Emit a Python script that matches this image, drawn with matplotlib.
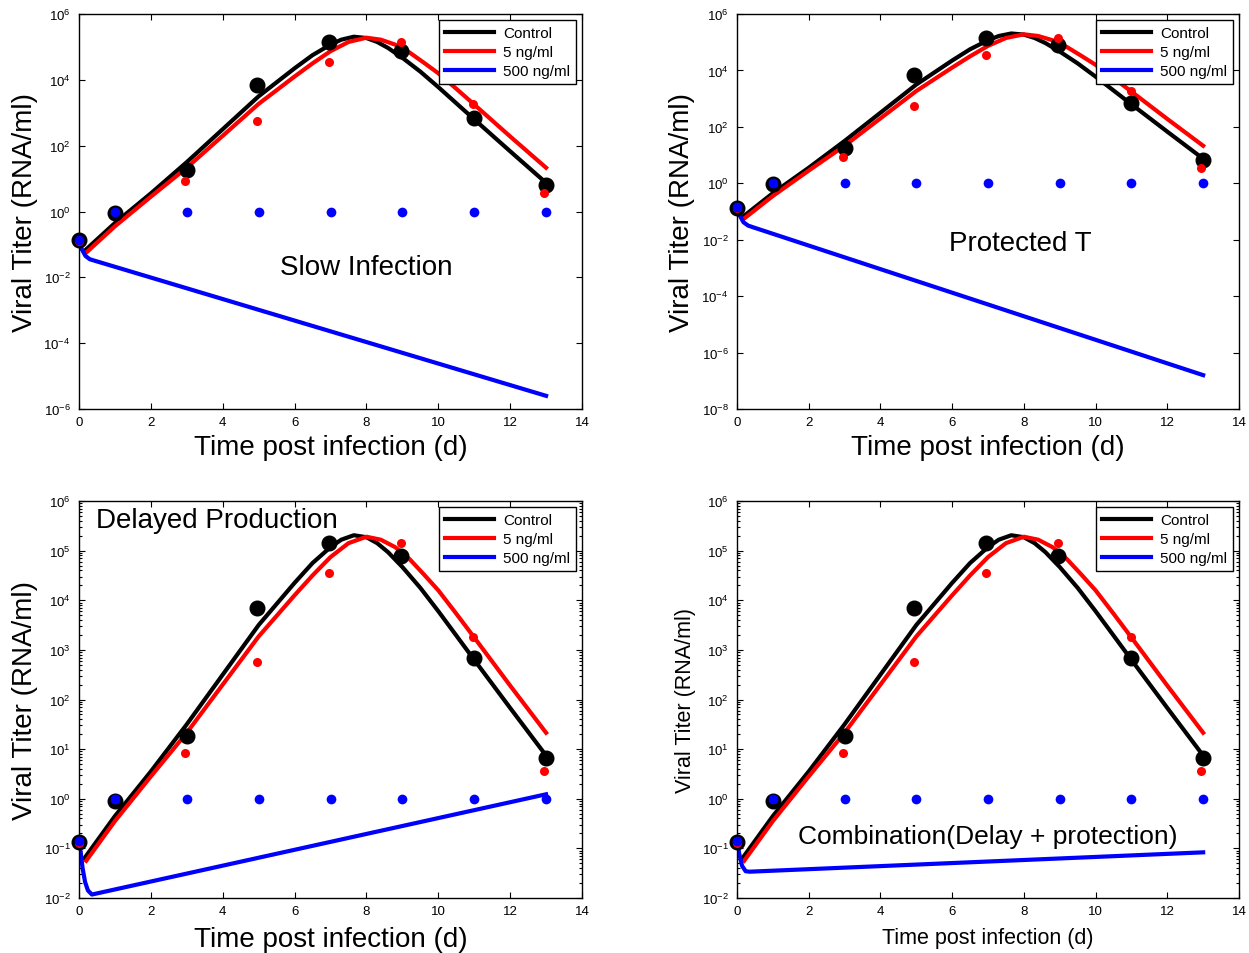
import numpy as np
import matplotlib
matplotlib.use('Agg')
import matplotlib.pyplot as plt
from matplotlib.ticker import FixedLocator, LogLocator, NullLocator, NullFormatter, LogFormatterMathtext

plt.rcParams['font.family'] = ['Liberation Sans', 'DejaVu Sans']
plt.rcParams['mathtext.default'] = 'regular'

# measured titers
ctrl_days = [0, 1, 3, 4.95, 6.95, 8.95, 11, 13]
ctrl_obs = [0.135, 0.92, 18, 6900, 1.44e5, 7.7e4, 700, 6.5]
low_days = [0, 1, 2.95, 4.95, 6.95, 8.95, 10.98, 12.95]
low_obs = [0.13, 1.0, 8.3, 570, 3.5e4, 1.44e5, 1.8e3, 3.6]
high_days = [0, 1, 3, 5, 7, 9, 11, 13]
high_obs = [0.14, 1, 1, 1, 1, 1, 1, 1]

# model fits, log10 titer
ctrl_t = [0.15, 0.5, 1, 2, 3, 4, 5, 6, 6.5, 7, 7.3, 7.65, 8.0, 8.3, 8.6, 9, 9.5, 10, 11, 12, 13]
ctrl_fit = [-1.2, -0.85, -0.35, 0.55, 1.5, 2.5, 3.5, 4.35, 4.75, 5.07, 5.22, 5.31, 5.27, 5.15, 4.97,
            4.67, 4.25, 3.78, 2.8, 1.83, 0.87]
low_t = [0.2, 0.5, 1, 2, 3, 4, 5, 6, 6.5, 7, 7.5, 8.0, 8.4, 8.8, 9.2, 9.6, 10, 10.5, 11, 12, 13]
low_fit = [-1.25, -0.95, -0.45, 0.45, 1.33, 2.3, 3.27, 4.1, 4.5, 4.87, 5.15, 5.28, 5.22, 5.07,
           4.83, 4.52, 4.2, 3.73, 3.25, 2.28, 1.33]

# 500 ng/ml fit for each model variant
slow_t = [0, 0.08, 0.18, 0.3, 0.45, 13]
slow_fit = [-0.85, -1.15, -1.35, -1.45, -1.5, -5.6]
prot_t = [0, 0.08, 0.18, 0.31, 0.45, 13]
prot_fit = [-0.85, -1.15, -1.38, -1.5, -1.56, -6.8]
delay_t = [0, 0.05, 0.1, 0.17, 0.25, 0.36, 13]
delay_fit = [-0.86, -1.1, -1.4, -1.68, -1.85, -1.93, 0.09]
comb_t = [0, 0.06, 0.14, 0.24, 0.35, 13]
comb_fit = [-0.82, -1.1, -1.35, -1.46, -1.47, -1.08]

W, H = 1249, 954
fig = plt.figure(figsize=(W / 100, H / 100), dpi=100)


def panel(rect, hi_t, hi_fit, ylo, step, note, note_pos, note_ha, note_size, lab_size, lab_x, lab_y):
    ax = fig.add_axes(rect)
    ax.plot(ctrl_days, ctrl_obs, 'o', color='k', ms=10.5, clip_on=False, zorder=3)
    ax.plot(low_days, low_obs, 'o', color='#ff0000', ms=6.5, mec='none', clip_on=False, zorder=3)
    ax.plot(high_days, high_obs, 'o', color='#0000ff', ms=7, mec='none', clip_on=False, zorder=3)
    ax.plot(ctrl_t, 10 ** np.array(ctrl_fit), '-', color='k', lw=3, label='Control')
    ax.plot(low_t, 10 ** np.array(low_fit), '-', color='#ff0000', lw=3, label='5 ng/ml')
    ax.plot(hi_t, 10 ** np.array(hi_fit), '-', color='#0000ff', lw=3, label='500 ng/ml')

    ax.set_yscale('log')
    ax.set_xlim(0, 14)
    ax.set_ylim(10.0 ** ylo, 1e6)
    ax.set_xticks(range(0, 15, 2))
    ax.yaxis.set_major_locator(FixedLocator([10.0 ** k for k in range(ylo, 7, step)]))
    ax.yaxis.set_major_formatter(LogFormatterMathtext())
    if step == 1:
        ax.yaxis.set_minor_locator(LogLocator(base=10, subs=np.arange(2, 10), numticks=20))
    else:
        ax.yaxis.set_minor_locator(NullLocator())
    ax.yaxis.set_minor_formatter(NullFormatter())
    ax.tick_params(which='both', direction='in', top=True, right=True, width=0.8)
    ax.tick_params(which='major', length=4, labelsize=9.5)
    ax.tick_params(axis='x', which='major', pad=5)
    ax.tick_params(axis='y', which='major', pad=6)
    ax.tick_params(which='minor', length=2.5)
    for s in ax.spines.values():
        s.set_linewidth(1.0)

    ax.set_xlabel('Time post infection (d)', fontsize=lab_size, va='center')
    ax.set_ylabel('Viral Titer (RNA/ml)', fontsize=lab_size, va='center')
    ax.xaxis.set_label_coords(0.5, lab_y)
    ax.yaxis.set_label_coords(lab_x, 0.5)

    ax.text(note_pos[0], note_pos[1], note, transform=ax.transAxes, ha=note_ha, va='center',
            fontsize=note_size)
    ax.legend(loc='upper right', fontsize=11, handlelength=3.2, fancybox=False, edgecolor='k',
              framealpha=1, borderaxespad=0.4, labelspacing=0.32, handletextpad=0.55, borderpad=0.4)
    ax.get_legend().get_frame().set_linewidth(1.0)
    return ax


def rect(x0, y_top, x1, y_bot):
    return [x0 / W, 1 - y_bot / H, (x1 - x0) / W, (y_bot - y_top) / H]


panel(rect(79, 15, 582, 410), slow_t, slow_fit, -6, 2, 'Slow Infection', (0.571, 0.359), 'center', 20,
      20, -0.107, -0.096)
panel(rect(737, 15, 1239, 410), prot_t, prot_fit, -8, 2, 'Protected T', (0.565, 0.42), 'center', 20,
      20, -0.11, -0.096)
panel(rect(79, 502, 582, 899), delay_t, delay_fit, -2, 1, 'Delayed Production', (0.034, 0.952), 'left', 20,
      20, -0.107, -0.104)
panel(rect(737, 502, 1239, 899), comb_t, comb_fit, -2, 1, 'Combination(Delay + protection)',
      (0.499, 0.157), 'center', 19, 15.5, -0.102, -0.099)

fig.savefig('out.png', dpi=100)
